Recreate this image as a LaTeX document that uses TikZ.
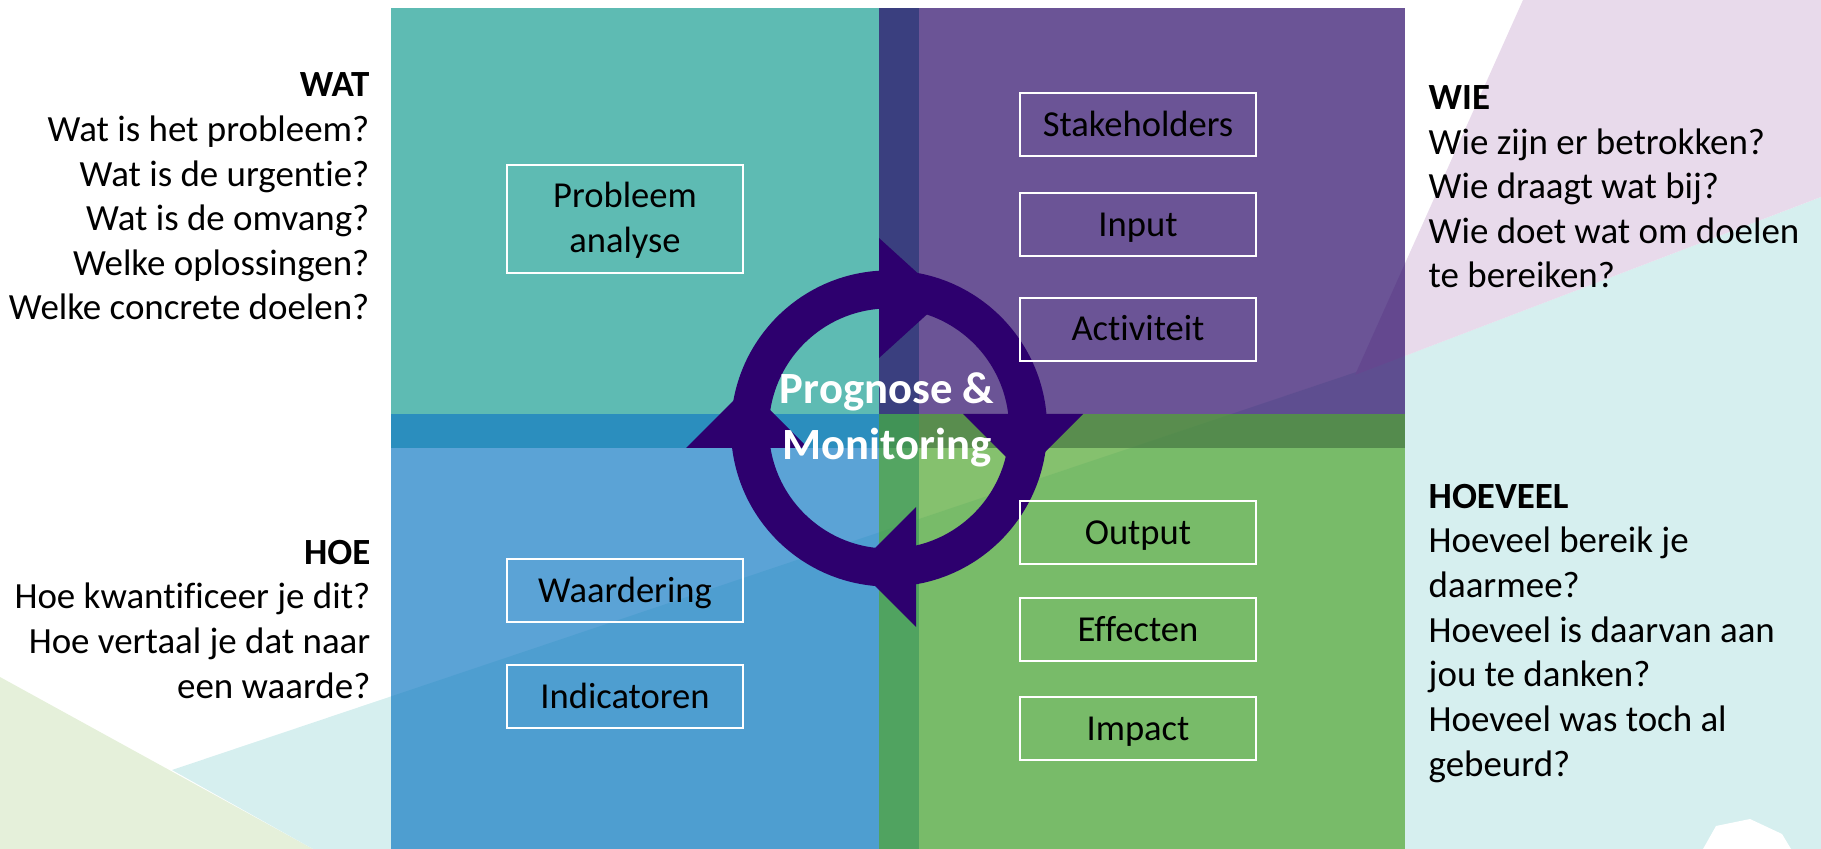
\documentclass[tikz,border=0pt]{standalone}
\usepackage{fontspec}
\setmainfont{Carlito}[Ligatures=NoCommon]
\usetikzlibrary{positioning}

\definecolor{kwteal}{RGB}{26,158,147}
\definecolor{kwpaars}{RGB}{44,11,105}
\definecolor{kwblauw}{RGB}{21,124,196}
\definecolor{kwgroen}{RGB}{81,166,49}
\definecolor{ringkleur}{RGB}{45,0,110}
\definecolor{bggroen}{RGB}{229,240,218}
\definecolor{bgteal}{RGB}{214,239,239}
\definecolor{bgpaars}{RGB}{232,218,235}

\begin{document}
\begin{tikzpicture}[x=0.01cm, y=-0.01cm,
            kwadrant/.style={fill opacity=0.7},
            rand/.style={draw=white, line width=0.6pt, minimum width=2.36cm, inner sep=0pt,
                         font=\fontsize{10.4}{12.7}\selectfont},
            vak/.style={rand, minimum height=0.63cm, text height=6.6pt, text depth=0pt},
            vraag/.style={inner sep=0pt, font=\fontsize{10.5}{12.7}\selectfont},
            pijl/.style={fill=ringkleur}]
        \useasboundingbox (0,0) rectangle (1821,849);
        \fill[bggroen] (0,677) -- (313,849) -- (0,849) -- cycle;
        \fill[bgteal] (172,770) -- (1407,355) -- (1821,197) -- (1821,849) -- (313,849) -- cycle;
        \fill[bgpaars] (1523,0) -- (1821,0) -- (1821,197) -- (1355,375) -- cycle;
        \fill[white] (1703,849) -- (1716,826) -- (1750,819) -- (1782,834) -- (1791,849) -- cycle;

        \fill[kwadrant, kwteal] (391,8) rectangle (919,448);
        \fill[kwadrant, kwpaars] (879,8) rectangle (1405,448);
        \fill[kwadrant, kwblauw] (391,414) rectangle (919,849);
        \fill[kwadrant, kwgroen] (879,414) rectangle (1405,849);

        \coordinate (mid) at (889,428.5);
        \draw[ringkleur, line width=0.38cm] (mid) circle[radius=1.39cm];
        \fill[pijl] (879,238) -- (879,358) -- (945,298) -- cycle;
        \fill[pijl] (963,414) -- (1083,414) -- (1023,474) -- cycle;
        \fill[pijl] (916,507) -- (916,627) -- (856,567) -- cycle;
        \fill[pijl] (686,448) -- (808,448) -- (747,387) -- cycle;
        \node[text=white, align=center, inner sep=0pt, anchor=base, font=\fontsize{12.7}{15.65}\selectfont\bfseries] (prognose) at (887,459) {Prognose \&\\Monitoring};

        \node[rand, minimum height=1.08cm, align=center, text height=20pt, text depth=1pt] (probleem) at (625,219) {Probleem\\analyse};
        \node[vak] (stake) at (1138,124.5) {Stakeholders};
        \node[vak, below=0.35cm of stake] (input) {Input};
        \node[vak, below=0.395cm of input] (activiteit) {Activiteit};
        \node[vak] (waardering) at (625,590.5) {Waardering};
        \node[vak, below=0.41cm of waardering] (indicatoren) {Indicatoren};
        \node[vak] (output) at (1138,532.5) {Output};
        \node[vak, below=0.32cm of output] (effecten) {Effecten};
        \node[vak, below=0.34cm of effecten] (impact) {Impact};

        \node[vraag, anchor=base east, align=right] (wat) at (370,320)
            {\textbf{WAT}\\Wat is het probleem?\\Wat is de urgentie?\\Wat is de omvang?\\Welke oplossingen?\\Welke concrete doelen?};
        \node[vraag, anchor=base west, align=left] (wie) at (1428,288)
            {\textbf{WIE}\\Wie zijn er betrokken?\\Wie draagt wat bij?\\Wie doet wat om doelen\\te bereiken?};
        \node[vraag, anchor=base east, align=right] (hoe) at (371,698)
            {\textbf{HOE}\\Hoe kwantificeer je dit?\\Hoe vertaal je dat naar\\een waarde?};
        \node[vraag, anchor=base west, align=left] (hoeveel) at (1428,776)
            {\textbf{HOEVEEL}\\Hoeveel bereik je\\daarmee?\\Hoeveel is daarvan aan\\jou te danken?\\Hoeveel was toch al\\gebeurd?};
\end{tikzpicture}
\end{document}
